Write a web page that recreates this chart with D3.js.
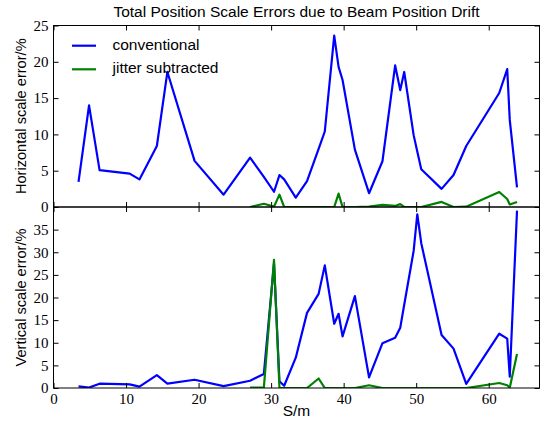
<!DOCTYPE html>
<html>
<head>
<meta charset="utf-8">
<script src="https://cdn.jsdelivr.net/npm/d3@7"></script>
<style>
  body { margin: 0; background: #fff; }
  svg { display: block; }
</style>
</head>
<body>
<div id="chart"></div>
<script>
// position along the line, metres
const S = [3.45, 4.9, 6.35, 10.5, 11.85, 14.25, 15.7, 19.45, 23.45, 27.1,
  29.0, 30.4, 31.15, 31.8, 33.4, 34.95, 36.55, 37.4, 38.7, 39.3,
  39.85, 41.55, 43.5, 45.35, 47.1, 47.8, 48.35, 49.65, 50.15, 50.7,
  53.5, 55.15, 56.9, 61.45, 62.55, 62.9, 63.9];

// horizontal scale error, %
const horizConventional = [3.45, 14.0, 5.07, 4.6, 3.8, 8.4, 18.6, 6.35, 1.7, 6.8,
  4.15, 2.1, 4.4, 3.8, 1.3, 3.55, 8.0, 10.4, 23.6, 19.3,
  17.5, 7.9, 1.9, 6.3, 19.5, 16.1, 18.6, 9.9, 7.65, 5.2,
  2.5, 4.4, 8.4, 15.7, 19.0, 12.0, 2.7];
const horizJitter = [null, null, null, null, null, null, null, null, null, 0.0,
  0.45, 0.05, 1.7, 0.0, 0.0, 0.0, 0.0, 0.0, 0.0, 1.85,
  0.0, 0.0, 0.05, 0.3, 0.15, 0.4, 0.0, 0.0, 0.0, 0.0,
  0.7, 0.0, 0.05, 2.07, 1.1, 0.35, 0.7];

// vertical scale error, %
const vertConventional = [0.35, 0.1, 0.95, 0.8, 0.3, 2.86, 0.95, 1.83, 0.4, 1.6,
  3.1, 27.5, 1.5, 0.5, 6.7, 16.6, 20.8, 27.1, 14.2, 16.4,
  11.4, 20.3, 2.35, 9.9, 11.1, 13.3, 18.4, 30.3, 38.4, 32.0,
  11.7, 8.7, 0.9, 12.0, 10.9, 2.5, 39.2];
const vertJitter = [null, null, null, null, null, null, null, null, null, 0.1,
  0.1, 28.3, 0.0, 0.0, 0.0, 0.0, 2.1, 0.0, 0.0, 0.0,
  0.0, 0.0, 0.6, 0.0, 0.0, 0.0, 0.0, 0.0, 0.0, 0.0,
  0.0, 0.0, 0.0, 1.1, 0.6, 0.05, 7.5];

const seriesNames = ["conventional", "jitter subtracted"];
const seriesColors = ["#0000ff", "#008000"];

const xTicks = [0, 10, 20, 30, 40, 50, 60];
const horizTicks = [0, 5, 10, 15, 20, 25];
const vertTicks = [0, 5, 10, 15, 20, 25, 30, 35];

const width = 541, height = 424;
const left = 53.5, right = 539.5;
const serif = "'Liberation Serif', 'DejaVu Serif', serif";
const sans = "'Liberation Sans', Arial, sans-serif";

const svg = d3.select("#chart").append("svg")
  .attr("width", width)
  .attr("height", height);

const x = d3.scaleLinear().domain([0, 67]).range([left, right]);

function drawPanel(id, top, bottom, yMax, yTicks, values, label, withXLabels) {
  const y = d3.scaleLinear().domain([0, yMax]).range([bottom, top]);
  const g = svg.append("g");

  g.append("clipPath").attr("id", id)
    .append("rect")
    .attr("x", left).attr("y", top)
    .attr("width", right - left).attr("height", bottom - top);

  const line = d3.line()
    .defined(d => d[1] != null)
    .x(d => x(d[0]))
    .y(d => y(d[1]));

  values.forEach((vals, i) => {
    g.append("path")
      .datum(S.map((s, k) => [s, vals[k]]))
      .attr("clip-path", `url(#${id})`)
      .attr("fill", "none")
      .attr("stroke", seriesColors[i])
      .attr("stroke-width", 2.2)
      .attr("stroke-linejoin", "round")
      .attr("d", line);
  });

  // ticks point inward on all four sides
  const axes = [
    [d3.axisLeft(y).tickValues(yTicks), `translate(${left},0)`, true],
    [d3.axisRight(y).tickValues(yTicks), `translate(${right},0)`, false],
    [d3.axisTop(x).tickValues(xTicks), `translate(0,${top})`, false],
    [d3.axisBottom(x).tickValues(xTicks), `translate(0,${bottom})`, withXLabels]
  ];
  axes.forEach(([ax, tr, labels]) => {
    ax.tickSizeInner(-5).tickSizeOuter(0).tickPadding(5);
    if (!labels) ax.tickFormat("");
    const a = g.append("g").attr("transform", tr).call(ax);
    a.select(".domain").remove();
    a.selectAll("line").attr("stroke", "#000");
    a.selectAll("text")
      .attr("fill", "#000")
      .style("font-family", serif)
      .style("font-size", "15px");
  });

  g.append("rect")
    .attr("x", left).attr("y", top)
    .attr("width", right - left).attr("height", bottom - top)
    .attr("fill", "none")
    .attr("stroke", "#000")
    .attr("stroke-width", 1);

  svg.append("text")
    .attr("transform", `translate(22,${(top + bottom) / 2}) rotate(-90)`)
    .attr("text-anchor", "middle")
    .attr("dominant-baseline", "middle")
    .style("font-family", sans)
    .style("font-size", "14.6px")
    .text(label);

  return g;
}

const topPanel = drawPanel("clipH", 25.5, 207, 25, horizTicks,
  [horizConventional, horizJitter], "Horizontal scale error/%", false);
drawPanel("clipV", 207, 388, 40, vertTicks,
  [vertConventional, vertJitter], "Vertical scale error/%", true);

// legend, no frame
seriesNames.forEach((name, i) => {
  const ly = 45.7 + i * 23.6;
  topPanel.append("line")
    .attr("x1", 72).attr("x2", 96)
    .attr("y1", ly).attr("y2", ly)
    .attr("stroke", seriesColors[i])
    .attr("stroke-width", 2.2);
  topPanel.append("text")
    .attr("x", 112.5).attr("y", ly)
    .attr("dominant-baseline", "middle")
    .style("font-family", sans)
    .style("font-size", "15.5px")
    .text(name);
});

svg.append("text")
  .attr("x", (left + right) / 2).attr("y", 17)
  .attr("text-anchor", "middle")
  .style("font-family", sans)
  .style("font-size", "15.5px")
  .text("Total Position Scale Errors due to Beam Position Drift");

svg.append("text")
  .attr("x", (left + right) / 2).attr("y", 416)
  .attr("text-anchor", "middle")
  .style("font-family", sans)
  .style("font-size", "15.5px")
  .text("S/m");
</script>
</body>
</html>
